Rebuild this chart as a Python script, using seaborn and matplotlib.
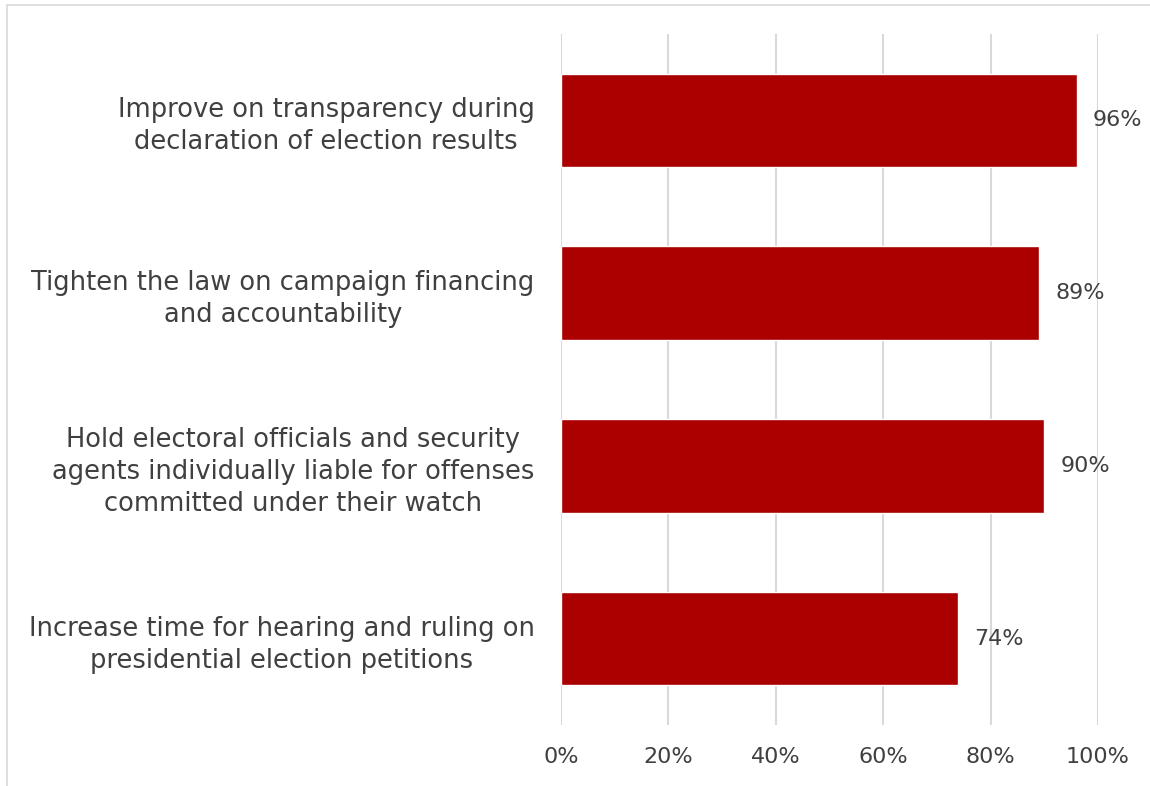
import matplotlib
matplotlib.use("Agg")
import matplotlib.pyplot as plt
import seaborn as sns
import pandas as pd
from matplotlib.patches import Rectangle

categories = [
    "Improve on transparency during\ndeclaration of election results",
    "Tighten the law on campaign financing\nand accountability",
    "Hold electoral officials and security\nagents individually liable for offenses\ncommitted under their watch",
    "Increase time for hearing and ruling on\npresidential election petitions",
]
values = [96, 89, 90, 74]
tick_values = [0, 20, 40, 60, 80, 100]
tick_labels = ["0%", "20%", "40%", "60%", "80%", "100%"]

sns.set_theme(style="white")
plt.rcParams["font.family"] = ["DejaVu Sans"]

df = pd.DataFrame({"category": categories, "value": values})

fig = plt.figure(figsize=(11.5, 7.86), dpi=100)
ax = fig.add_axes([561 / 1150, 1 - 725 / 786, (1098 - 561) / 1150, (725 - 34) / 786])

# light frame around the chart area
fig.patches.append(Rectangle((7 / 1150, -0.05), 1.2, 1.05 - 5 / 786, transform=fig.transFigure,
                             fill=False, edgecolor="#D9D9D9", linewidth=1.2, zorder=0))

sns.barplot(data=df, x="value", y="category", color="#AA0000", width=0.54,
            saturation=1, ax=ax, zorder=3)

ax.set_xlim(0, 100)
ax.set_ylim(3.5, -0.5)
ax.set_xticks(tick_values)
ax.set_xticklabels(tick_labels, fontsize=16, color="#404040")
ax.grid(axis="x", color="#D9D9D9", linewidth=1.5, zorder=0)
ax.set_axisbelow(True)
for s in ax.spines.values():
    s.set_visible(False)
ax.set_xlabel("")
ax.set_ylabel("")
ax.tick_params(axis="x", length=0, pad=16)
ax.tick_params(axis="y", length=0, pad=19)
for lbl in ax.get_yticklabels():
    lbl.set_fontsize(18.5)
    lbl.set_color("#404040")
    lbl.set_multialignment("center")
    lbl.set_linespacing(1.3)

for i, v in enumerate(values):
    ax.text(v + 3, i, f"{v}%", va="center", ha="left", fontsize=16, color="#404040")

fig.savefig("out.png", dpi=100, facecolor="white")
